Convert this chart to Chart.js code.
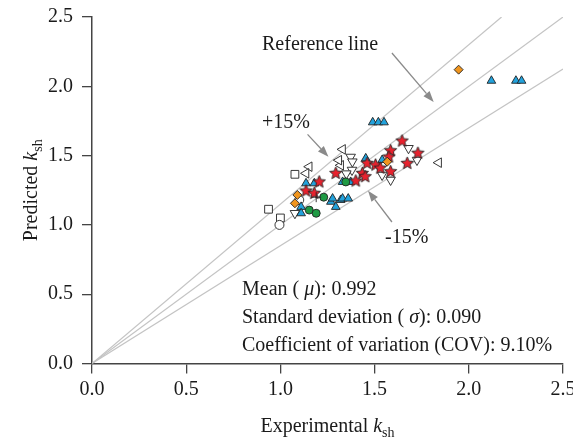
<!DOCTYPE html>
<html>
<head>
<meta charset="utf-8">
<script src="https://cdn.jsdelivr.net/npm/chart.js@4"></script>
<style>
  html, body { margin: 0; padding: 0; background: #fff; }
  canvas { display: block; }
</style>
</head>
<body>
<canvas id="kshChart" width="573" height="441"></canvas>
<script>
// axis ticks
const tickValues = [0, 0.5, 1.0, 1.5, 2.0, 2.5];
// reference lines: y = x, +15%, -15%
const refSlopes = [1, 1.15, 0.85];

// [experimental, predicted], one array per marker type
const openSquares = [[1.077, 1.365], [0.937, 1.113], [1.0, 1.05]];
const openLeftTri = [[1.153, 1.42], [1.136, 1.372], [1.32, 1.43], [1.31, 1.467], [1.33, 1.545], [1.84, 1.449]];
const openDownTri = [[1.373, 1.49], [1.382, 1.456], [1.38, 1.396], [1.68, 1.553], [1.725, 1.468],
  [1.585, 1.324], [1.54, 1.36], [1.077, 1.084], [1.35, 1.37]];
const redStars = [[1.206, 1.31], [1.136, 1.245], [1.18, 1.228], [1.294, 1.372], [1.46, 1.444],
  [1.505, 1.432], [1.53, 1.41], [1.435, 1.372], [1.45, 1.348], [1.40, 1.317], [1.646, 1.605],
  [1.585, 1.535], [1.576, 1.49], [1.73, 1.517], [1.673, 1.444], [1.585, 1.384]];
const blueTri = [[2.12, 2.04], [2.25, 2.04], [2.28, 2.04], [1.49, 1.74], [1.52, 1.74], [1.55, 1.74],
  [1.136, 1.30], [1.18, 1.30], [1.11, 1.13], [1.11, 1.084], [1.268, 1.167], [1.32, 1.18],
  [1.294, 1.13], [1.453, 1.48], [1.54, 1.468], [1.33, 1.31], [1.373, 1.31], [1.277, 1.19],
  [1.33, 1.19], [1.36, 1.19]];
const greenCircles = [[1.23, 1.20], [1.153, 1.107], [1.19, 1.084], [1.347, 1.31]];
const orangeDiamonds = [[1.946, 2.12], [1.09, 1.216], [1.077, 1.156], [1.567, 1.456]];
const openCircles = [[0.995, 1.0], [1.1, 1.18]];
const purpleCross = [[1.19, 1.20]];

const serif = "'Liberation Serif', 'DejaVu Serif', serif";
const toPts = arr => arr.map(p => ({ x: p[0], y: p[1] }));

function makeStar(r, fill) {
  const c = document.createElement("canvas");
  c.width = c.height = 2 * r + 4;
  const g = c.getContext("2d");
  g.translate(r + 2, r + 2);
  g.beginPath();
  for (let i = 0; i < 10; i++) {
    const a = -Math.PI / 2 + i * Math.PI / 5;
    const rr = i % 2 ? r * 0.45 : r;
    g.lineTo(rr * Math.cos(a), rr * Math.sin(a));
  }
  g.closePath();
  g.fillStyle = fill;
  g.fill();
  g.lineWidth = 0.9;
  g.strokeStyle = "#222";
  g.stroke();
  return c;
}

function marker(data, style, color, radius, rotation) {
  return {
    type: "scatter",
    data: toPts(data),
    pointStyle: style,
    pointRadius: radius,
    pointHoverRadius: radius,
    pointRotation: rotation || 0,
    backgroundColor: color,
    borderColor: "#222",
    borderWidth: 0.9,
  };
}

const refLines = refSlopes.map(k => ({
  type: "line",
  data: [{ x: 0, y: 0 }, { x: Math.min(2.5, 2.5 / k), y: Math.min(2.5, 2.5 * k) }],
  borderColor: "#c4c4c4",
  borderWidth: 1.2,
  pointRadius: 0,
  order: 10,
}));

// rich text helper: parts = [text, font, dy]
function drawParts(ctx, parts, x, y, align) {
  let total = 0;
  parts.forEach(p => { ctx.font = p[1]; total += ctx.measureText(p[0]).width; });
  let cx = align === "center" ? x - total / 2 : x;
  parts.forEach(p => {
    ctx.font = p[1];
    ctx.fillText(p[0], cx, y + (p[2] || 0));
    cx += ctx.measureText(p[0]).width;
  });
}

function arrow(ctx, x1, y1, x2, y2) {
  const a = Math.atan2(y2 - y1, x2 - x1);
  const hl = 11, hw = 4;
  ctx.strokeStyle = "#8a8a8a";
  ctx.fillStyle = "#8a8a8a";
  ctx.lineWidth = 1.3;
  ctx.beginPath();
  ctx.moveTo(x1, y1);
  ctx.lineTo(x2 - hl * Math.cos(a), y2 - hl * Math.sin(a));
  ctx.stroke();
  ctx.beginPath();
  ctx.moveTo(x2, y2);
  ctx.lineTo(x2 - hl * Math.cos(a) + hw * Math.sin(a), y2 - hl * Math.sin(a) - hw * Math.cos(a));
  ctx.lineTo(x2 - hl * Math.cos(a) - hw * Math.sin(a), y2 - hl * Math.sin(a) + hw * Math.cos(a));
  ctx.closePath();
  ctx.fill();
}

const annotations = {
  id: "annotations",
  afterDraw(chart) {
    const { ctx, chartArea, scales } = chart;
    const px = v => scales.x.getPixelForValue(v);
    const py = v => scales.y.getPixelForValue(v);
    const f = "20px " + serif;
    const fi = "italic 20px " + serif;
    const fs = "14px " + serif;
    ctx.save();
    ctx.fillStyle = "#1a1a1a";
    ctx.textBaseline = "alphabetic";

    // axis titles
    drawParts(ctx, [["Experimental ", f], ["k", fi], ["sh", fs, 5]], (chartArea.left + chartArea.right) / 2, 432, "center");
    ctx.save();
    ctx.translate(37, (chartArea.top + chartArea.bottom) / 2);
    ctx.rotate(-Math.PI / 2);
    drawParts(ctx, [["Predicted ", f], ["k", fi], ["sh", fs, 5]], 0, 0, "center");
    ctx.restore();

    // line labels and arrows
    ctx.fillStyle = "#1a1a1a";
    drawParts(ctx, [["Reference line", f]], 262, 50);
    drawParts(ctx, [["+15%", f]], 262, 128);
    drawParts(ctx, [["-15%", f]], 385, 243);
    arrow(ctx, px(1.592), py(2.24), px(1.8135), py(1.887));
    arrow(ctx, px(1.144), py(1.653), px(1.255), py(1.492));
    arrow(ctx, px(1.592), py(1.021), px(1.465), py(1.247));

    // statistics
    ctx.fillStyle = "#1a1a1a";
    drawParts(ctx, [["Mean ( ", f], ["\u03bc", fi], ["): 0.992", f]], 242, 295);
    drawParts(ctx, [["Standard deviation ( ", f], ["\u03c3", fi], ["): 0.090", f]], 242, 323);
    drawParts(ctx, [["Coefficient of variation (COV): 9.10%", f]], 242, 351);
    ctx.restore();
  },
};

const axisCommon = {
  type: "linear",
  min: 0,
  max: 2.5,
  afterBuildTicks: s => { s.ticks = tickValues.map(v => ({ value: v })); },
  ticks: {
    callback: v => v.toFixed(1),
    font: { family: serif, size: 20 },
    color: "#1a1a1a",
  },
  grid: { drawOnChartArea: false, drawTicks: true, tickLength: 10, color: "#444", lineWidth: 1.3 },
  border: { display: true, color: "#444", width: 1.5 },
};

new Chart(document.getElementById("kshChart"), {
  type: "scatter",
  data: {
    datasets: [
      marker(orangeDiamonds, "rectRot", "#f0951e", 4.5),
      marker(purpleCross, "cross", "#6a5a9a", 5),
      marker(greenCircles, "circle", "#1f9a44", 4),
      marker(redStars, makeStar(6.5, "#e8222e"), "#e8222e", 6.5),
      marker(blueTri, "triangle", "#22a2dc", 5),
      marker(openDownTri, "triangle", "#ffffff", 5.5, 180),
      marker(openLeftTri, "triangle", "#ffffff", 5.5, 270),
      marker(openCircles, "circle", "#ffffff", 4.5),
      marker(openSquares, "rect", "#ffffff", 5.5),
      ...refLines,
    ],
  },
  options: {
    responsive: false,
    animation: false,
    events: [],
    layout: { padding: { top: 17, right: 10, left: 0, bottom: 0 } },
    plugins: { legend: { display: false }, tooltip: { enabled: false } },
    scales: {
      x: {
        ...axisCommon,
        ticks: { ...axisCommon.ticks, padding: 4 },
        afterFit: s => { s.height = 77.5; s.paddingLeft = 0; s.paddingRight = 0; },
      },
      y: {
        ...axisCommon,
        ticks: { ...axisCommon.ticks, padding: 9 },
        afterFit: s => { s.width = 92; s.paddingTop = 0; s.paddingBottom = 0; },
      },
    },
  },
  plugins: [annotations],
});
</script>
</body>
</html>
